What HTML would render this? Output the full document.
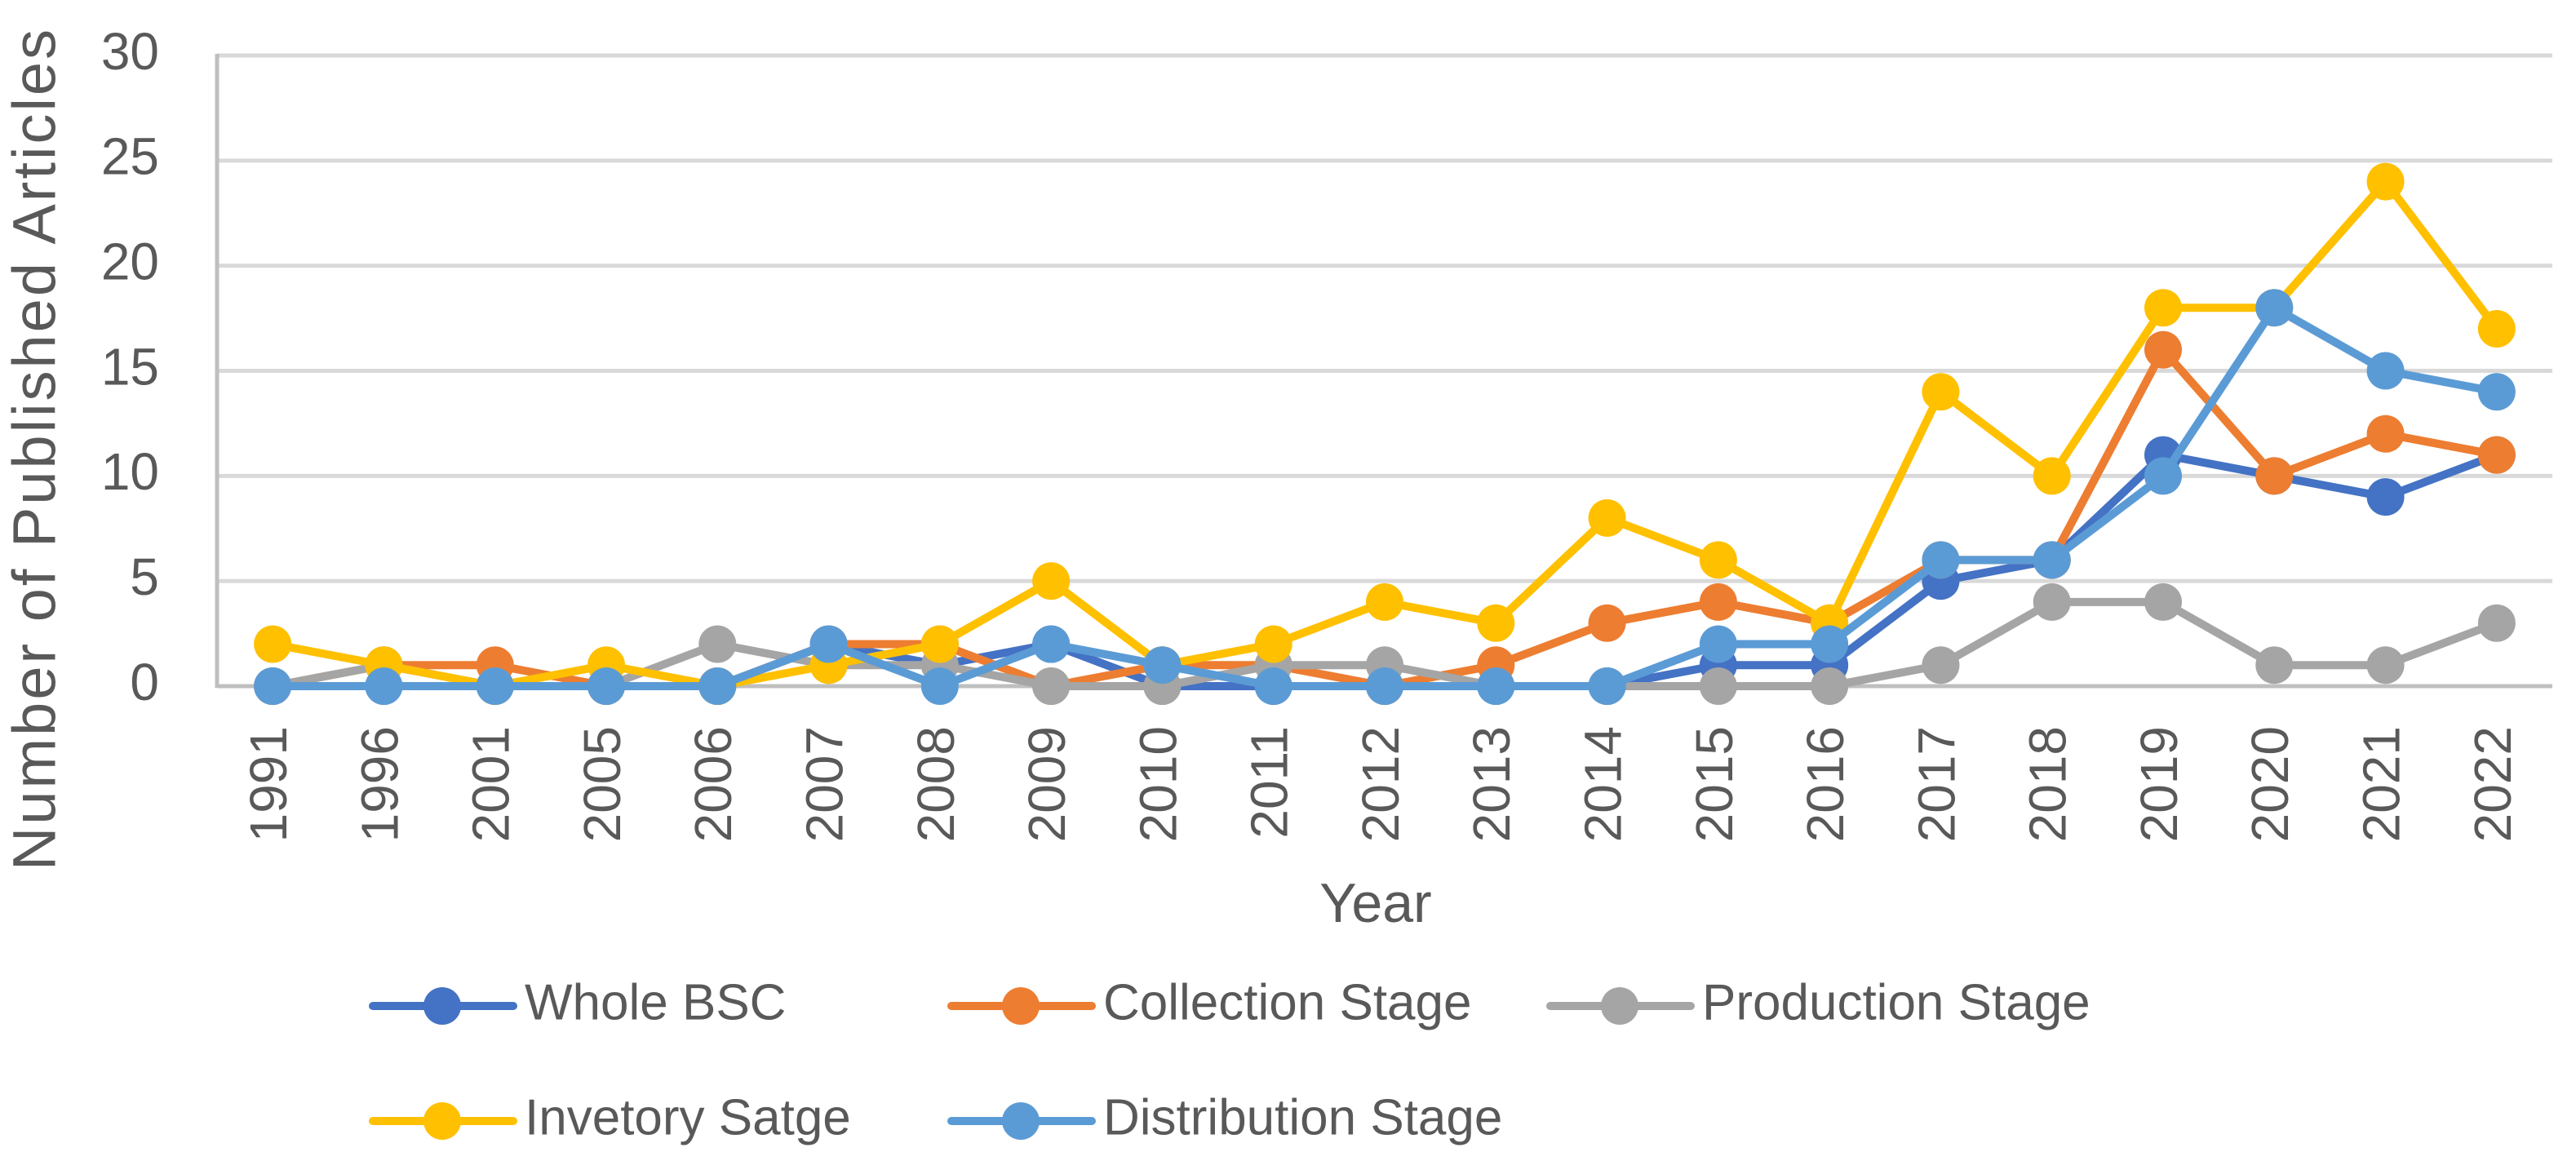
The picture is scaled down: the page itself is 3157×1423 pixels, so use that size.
<!DOCTYPE html>
<html><head><meta charset="utf-8"><style>
html,body{margin:0;padding:0;background:#fff;}
svg{display:block;font-family:"Liberation Sans",sans-serif;}
</style></head><body>
<svg id="chart" width="3157" height="1423" viewBox="0 0 3157 1423">
<g id="grid"></g>
<g id="yticks"></g>
<g id="xticks"></g>
<g id="series"></g>
<text x="48" y="550" transform="rotate(-90 48 550)" text-anchor="middle" dominant-baseline="middle" font-size="74" fill="#595959" letter-spacing="3">Number of Published Articles</text>
<text x="1686" y="1112" text-anchor="middle" dominant-baseline="middle" font-size="68" fill="#595959">Year</text>
<g id="legend"></g>
</svg>
<script>
const categories = ["1991","1996","2001","2005","2006","2007","2008","2009","2010","2011","2012","2013","2014","2015","2016","2017","2018","2019","2020","2021","2022"];
const wholeBSC = [0,0,0,0,0,2,1,2,0,0,0,0,0,1,1,5,6,11,10,9,11];
const collection = [0,1,1,0,0,2,2,0,1,1,0,1,3,4,3,6,6,16,10,12,11];
const production = [0,1,0,0,2,1,1,0,0,1,1,0,0,0,0,1,4,4,1,1,3];
const inventory = [2,1,0,1,0,1,2,5,1,2,4,3,8,6,3,14,10,18,18,24,17];
const distribution = [0,0,0,0,0,2,0,2,1,0,0,0,0,2,2,6,6,10,18,15,14];
const yTicks = [0,5,10,15,20,25,30];
const seriesNames = ["Whole BSC","Collection Stage","Production Stage","Invetory Satge","Distribution Stage"];
const seriesColors = ["#4472C4","#ED7D31","#A5A5A5","#FFC000","#5B9BD5"];

const NS="http://www.w3.org/2000/svg";
const X0=266, X1=3128, Y0=841, Y1=68, YMAX=30;
const band=(X1-X0)/categories.length;
function xs(i){return X0+band*(i+0.5);}
function ys(v){return Y0-(v/YMAX)*(Y0-Y1);}
function mk(tag,attrs,parent){const e=document.createElementNS(NS,tag);for(const k in attrs)e.setAttribute(k,attrs[k]);parent.appendChild(e);return e;}

const grid=document.getElementById('grid');
yTicks.forEach(t=>{
  const l=mk('line',{x1:X0,x2:X1,y1:ys(t),y2:ys(t),stroke:t===0?'#BFBFBF':'#D9D9D9','stroke-width':5},grid);
  
  
});
const ax=mk('line',{x1:X0,x2:X0,y1:Y1-2,y2:Y0+2,stroke:'#BFBFBF','stroke-width':5},grid);



const yt=document.getElementById('yticks');
yTicks.forEach(t=>{
  const tx=mk('text',{x:195,y:ys(t),'text-anchor':'end','dominant-baseline':'middle','font-size':64,fill:'#595959'},yt);
  tx.textContent=t;
  
  
});
const xt=document.getElementById('xticks');
categories.forEach((c,i)=>{
  const x=xs(i), y=890;
  const tx=mk('text',{x:x,y:y,transform:`rotate(-90 ${x} ${y})`,'text-anchor':'end','dominant-baseline':'middle','font-size':64,fill:'#595959'},xt);
  tx.textContent=c;
  
  
});

const allSeries=[wholeBSC,collection,production,inventory,distribution];
const sg=document.getElementById('series');
allSeries.forEach((vals,si)=>{
  const g=mk('g',{},sg);
  
  
  const pts=vals.map((v,i)=>xs(i)+','+ys(v)).join(' ');
  const pl=mk('polyline',{points:pts,fill:'none',stroke:seriesColors[si],'stroke-width':10,'stroke-linejoin':'round'},g);
  
  
  vals.forEach((v,i)=>{
    const c=mk('circle',{cx:xs(i),cy:ys(v),r:23,fill:seriesColors[si]},g);
    
    
  });
});

const lg=document.getElementById('legend');
const legPos=[[457,1233],[1166,1233],[1900,1233],[457,1374],[1166,1374]];
seriesNames.forEach((n,i)=>{
  const [lx,ly]=legPos[i];
  const g=mk('g',{},lg);
  
  
  mk('line',{x1:lx,x2:lx+172,y1:ly,y2:ly,stroke:seriesColors[i],'stroke-width':10,'stroke-linecap':'round'},g);
  mk('circle',{cx:lx+85,cy:ly,r:23,fill:seriesColors[i]},g);
  const t=mk('text',{x:lx+186,y:ly,'dominant-baseline':'middle','font-size':62,fill:'#595959'},g);
  t.textContent=n;
});
</script>
</body></html>
